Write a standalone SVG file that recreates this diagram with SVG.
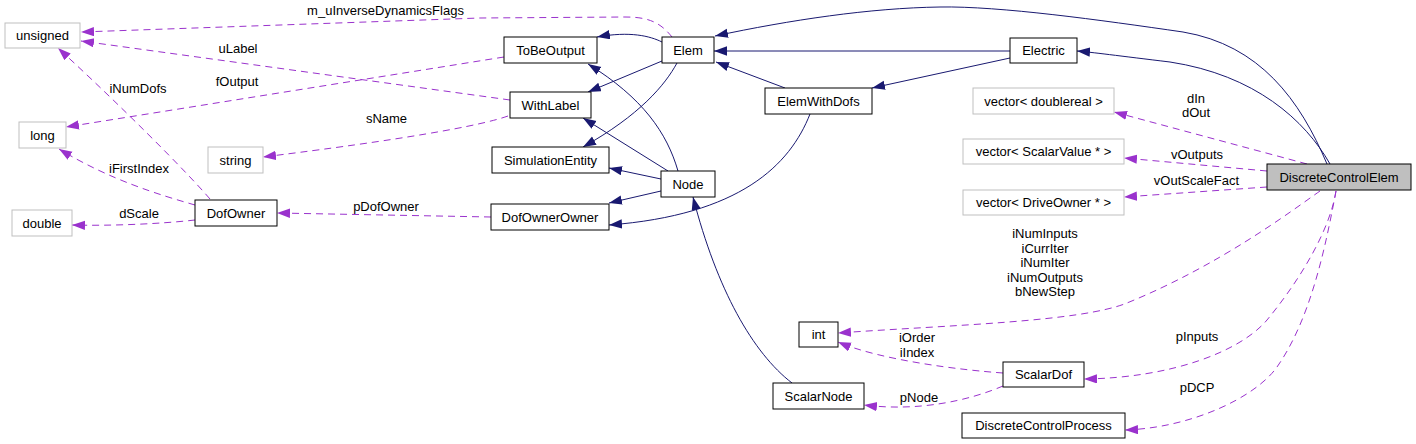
<svg xmlns="http://www.w3.org/2000/svg" width="1416" height="444" viewBox="0 0 1416 444">
<style>
  .n rect { fill: #ffffff; stroke: #000000; stroke-width: 1; }
  .g rect { fill: #ffffff; stroke: #bfbfbf; stroke-width: 1; }
  .cur rect { fill: #bfbfbf; stroke: #000000; stroke-width: 1; }
  text { font-family: "Liberation Sans", Arial, sans-serif; font-size: 13px; fill: #000000; text-anchor: middle; }
  .inh { fill: none; stroke: #191970; stroke-width: 1; marker-end: url(#ah); }
  .use { fill: none; stroke: #9a32cd; stroke-width: 1; stroke-dasharray: 7,5; marker-end: url(#au); }
</style>
<defs>
  <marker id="ah" markerUnits="userSpaceOnUse" markerWidth="14" markerHeight="10" refX="13" refY="4.65" orient="auto">
    <path d="M0,0 L13,4.65 L0,9.3 Z" fill="#191970"/>
  </marker>
  <marker id="au" markerUnits="userSpaceOnUse" markerWidth="14" markerHeight="10" refX="13" refY="4.65" orient="auto">
    <path d="M0,0 L13,4.65 L0,9.3 Z" fill="#9a32cd"/>
  </marker>
</defs>
<rect x="0" y="0" width="1416" height="444" fill="#ffffff"/>

<g id="connectors">
  <!-- inheritance -->
  <path class="inh" d="M662,42 C650,36 630,31 597,37"/>
  <path class="inh" d="M662,61 L588,92"/>
  <path class="inh" d="M677,63 C665,85 640,115 583,147"/>
  <path class="inh" d="M678,171 C667,133 643,98 588,64"/>
  <path class="inh" d="M668,171 L583,118"/>
  <path class="inh" d="M661,179 L609,168"/>
  <path class="inh" d="M661,191 L609,203"/>
  <path class="inh" d="M785,88 L716,62"/>
  <path class="inh" d="M810,114 C790,165 740,215 609,225"/>
  <path class="inh" d="M1010,51 L714,51"/>
  <path class="inh" d="M1010,58 L872,88"/>
  <path class="inh" d="M1327,164 C1300,100 1260,45 1183,32 C1100,20 1000,6 940,7 C870,8 790,20 715,36"/>
  <path class="inh" d="M1330,164 C1305,120 1255,75 1170,62 C1120,56 1090,52 1077,51"/>
  <path class="inh" d="M792,383 C753,353 717,290 693,197"/>
  <!-- usage -->
  <path class="use" d="M672,37 C660,22 648,17 625,17 L480,18 L81,32"/>
  <path class="use" d="M510,100 L81,41"/>
  <path class="use" d="M504,57 L66,127"/>
  <path class="use" d="M508,116 C480,126 400,140 263,157"/>
  <path class="use" d="M210,199 C185,170 120,105 58,48"/>
  <path class="use" d="M195,205 C160,195 110,180 59,149"/>
  <path class="use" d="M195,220 C160,224 110,226 72,225"/>
  <path class="use" d="M491,217 L277,213"/>
  <path class="use" d="M1307,164 L1114,112"/>
  <path class="use" d="M1267,171 L1124,158"/>
  <path class="use" d="M1267,187 L1124,197"/>
  <path class="use" d="M1320,191 C1290,212 1220,265 1127,303 C1080,322 950,325 838,333"/>
  <path class="use" d="M1336,191 C1330,230 1300,280 1267,320 C1240,352 1170,378 1084,379"/>
  <path class="use" d="M1336,191 C1325,250 1310,320 1277,367 C1255,398 1190,428 1125,430"/>
  <path class="use" d="M1003,373 C960,370 880,360 838,342"/>
  <path class="use" d="M1003,386 C970,400 920,412 864,405"/>
  <!-- labels -->
  <text x="385.5" y="15">m_uInverseDynamicsFlags</text>
  <text x="238" y="53">uLabel</text>
  <text x="237" y="86">fOutput</text>
  <text x="138" y="93">iNumDofs</text>
  <text x="386.5" y="123">sName</text>
  <text x="139" y="173">iFirstIndex</text>
  <text x="139" y="218">dScale</text>
  <text x="386" y="211">pDofOwner</text>
  <text x="1196" y="103">dIn</text>
  <text x="1196" y="117">dOut</text>
  <text x="1197" y="159">vOutputs</text>
  <text x="1196.5" y="185">vOutScaleFact</text>
  <text x="1045" y="238">iNumInputs</text>
  <text x="1045" y="252.5">iCurrIter</text>
  <text x="1045" y="267">iNumIter</text>
  <text x="1045" y="281.5">iNumOutputs</text>
  <text x="1045" y="296">bNewStep</text>
  <text x="917" y="342">iOrder</text>
  <text x="917" y="357">iIndex</text>
  <text x="1197" y="341">pInputs</text>
  <text x="1197" y="392">pDCP</text>
  <text x="919" y="402">pNode</text>
</g>

<g id="node-unsigned" class="g"><rect x="5" y="23" width="75" height="25"/><text x="42.5" y="40">unsigned</text></g>
<g id="node-long" class="g"><rect x="19" y="122" width="47" height="26"/><text x="42.5" y="139.5">long</text></g>
<g id="node-string" class="g"><rect x="208" y="147" width="55" height="26"/><text x="235.5" y="164.5">string</text></g>
<g id="node-double" class="g"><rect x="12" y="210" width="60" height="26"/><text x="42" y="227.5">double</text></g>
<g id="node-DofOwner" class="n"><rect x="195" y="200" width="82" height="26"/><text x="236" y="217.5">DofOwner</text></g>
<g id="node-ToBeOutput" class="n"><rect x="504" y="37" width="93" height="26"/><text x="550.5" y="54.5">ToBeOutput</text></g>
<g id="node-Elem" class="n"><rect x="662" y="37" width="52" height="26"/><text x="688" y="54.5">Elem</text></g>
<g id="node-WithLabel" class="n"><rect x="510" y="92" width="81" height="26"/><text x="550.5" y="109.5">WithLabel</text></g>
<g id="node-SimulationEntity" class="n"><rect x="492" y="147" width="117" height="26"/><text x="550.5" y="164.5">SimulationEntity</text></g>
<g id="node-Node" class="n"><rect x="661" y="171" width="54" height="26"/><text x="688" y="188.5">Node</text></g>
<g id="node-DofOwnerOwner" class="n"><rect x="491" y="204" width="118" height="26"/><text x="550" y="221.5">DofOwnerOwner</text></g>
<g id="node-ElemWithDofs" class="n"><rect x="765" y="88" width="107" height="26"/><text x="818.5" y="105.5">ElemWithDofs</text></g>
<g id="node-Electric" class="n"><rect x="1010" y="38" width="67" height="25"/><text x="1043.5" y="55">Electric</text></g>
<g id="node-vector-doublereal" class="g"><rect x="973" y="88" width="141" height="26"/><text x="1043.5" y="105.5">vector&lt; doublereal &gt;</text></g>
<g id="node-vector-ScalarValue" class="g"><rect x="963" y="139" width="161" height="25"/><text x="1043.5" y="156">vector&lt; ScalarValue * &gt;</text></g>
<g id="node-vector-DriveOwner" class="g"><rect x="963" y="190" width="161" height="25"/><text x="1043.5" y="207">vector&lt; DriveOwner * &gt;</text></g>
<g id="node-DiscreteControlElem" class="cur"><rect x="1267" y="164" width="144" height="26"/><text x="1339" y="181.5">DiscreteControlElem</text></g>
<g id="node-int" class="n"><rect x="799" y="322" width="39" height="25"/><text x="818.5" y="339">int</text></g>
<g id="node-ScalarDof" class="n"><rect x="1003" y="362" width="81" height="25"/><text x="1043.5" y="379">ScalarDof</text></g>
<g id="node-ScalarNode" class="n"><rect x="773" y="383" width="91" height="26"/><text x="818.5" y="400.5">ScalarNode</text></g>
<g id="node-DiscreteControlProcess" class="n"><rect x="962" y="413" width="163" height="25"/><text x="1043.5" y="430">DiscreteControlProcess</text></g>
</svg>
